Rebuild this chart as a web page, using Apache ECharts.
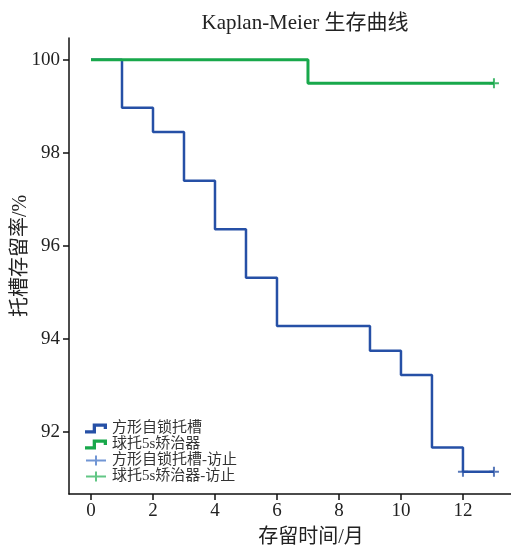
<!DOCTYPE html>
<html style="height: 100%">
<head>
  <meta charset="utf-8">
</head>
<body style="height: 100%; margin: 0">
  <div id="container" style="width: 511px; height: 551px"></div>
  <script type="text/javascript" src="https://cdn.jsdelivr.net/npm/echarts@6/dist/echarts.min.js"></script>
  <script type="text/javascript">
    // survival steps
    var blueTimes = [0, 1, 2, 3, 4, 5, 6, 9, 10, 11, 12, 13];
    var blueRates = [100, 98.97, 98.45, 97.4, 96.36, 95.32, 94.28, 93.75, 93.23, 91.67, 91.15, 91.15];
    var greenTimes = [0, 7, 13];
    var greenRates = [100, 99.5, 99.5];
    var blueCensor = [[12, 91.15], [13, 91.15]];
    var greenCensor = [[13, 99.5]];
    var xTicks = [0, 2, 4, 6, 8, 10, 12];
    var yTicks = [92, 94, 96, 98, 100];
    var names = ['方形自锁托槽', '球托5s矫治器', '方形自锁托槽-访止', '球托5s矫治器-访止'];

    var font = '"Liberation Serif", "Noto Sans CJK SC", serif';
    var blue = '#2650a6';
    var green = '#18a84b';
    var plusPath = 'path://M9,0 L11,0 L11,4 L20,4 L20,6 L11,6 L11,10 L9,10 L9,6 L0,6 L0,4 L9,4 Z';
    var stepPath = 'path://M0,7 L7,7 L7,1 L20,1 L20,6 L17,6 L17,4 L10,4 L10,10 L0,10 Z';
    var markPath = 'path://M4,0 L6,0 L6,4 L10,4 L10,6 L6,6 L6,10 L4,10 L4,6 L0,6 L0,4 L4,4 Z';

    function zip(xs, ys) {
      return xs.map(function (x, i) { return [x, ys[i]]; });
    }

    var dom = document.getElementById('container');
    var myChart = echarts.init(dom, null, { renderer: 'canvas' });
    var option = {
      animation: false,
      backgroundColor: '#fff',
      title: {
        text: 'Kaplan-Meier 生存曲线',
        left: 300,
        top: 8,
        textAlign: 'center',
        textStyle: { fontFamily: font, fontSize: 21, fontWeight: 'normal', color: '#222' }
      },
      legend: {
        orient: 'vertical',
        left: 80,
        top: 416,
        itemGap: 1,
        itemWidth: 22,
        itemHeight: 10,
        textStyle: { fontFamily: font, fontSize: 15, color: '#333', lineHeight: 14 },
        data: [
          { name: names[0], icon: stepPath },
          { name: names[1], icon: stepPath },
          { name: names[2], icon: plusPath, itemStyle: { color: '#4d7cc9' } },
          { name: names[3], icon: plusPath, itemStyle: { color: '#3bb866' } }
        ]
      },
      grid: { left: 69, right: 0, top: 38, bottom: 57, outerBoundsMode: 'none', containLabel: false },
      xAxis: {
        type: 'value',
        min: -0.71,
        max: 13.55,
        name: '存留时间/月',
        nameLocation: 'middle',
        nameGap: 34,
        nameMoveOverlap: false,
        nameTextStyle: { fontFamily: font, fontSize: 20, color: '#222', padding: [0, 0, 0, 42] },
        splitLine: { show: false },
        axisLine: { onZero: false, lineStyle: { color: '#111', width: 1.5 } },
        axisTick: { customValues: xTicks, length: 6, lineStyle: { color: '#111', width: 1.5 } },
        axisLabel: { customValues: xTicks, fontFamily: font, fontSize: 19, color: '#222', margin: 8 }
      },
      yAxis: {
        type: 'value',
        min: 90.67,
        max: 100.47,
        name: '托槽存留率/%',
        nameLocation: 'middle',
        nameGap: 38,
        nameMoveOverlap: false,
        nameTextStyle: { fontFamily: font, fontSize: 20, color: '#222', padding: [0, 0, 0, 20] },
        splitLine: { show: false },
        axisLine: { show: true, onZero: false, lineStyle: { color: '#111', width: 1.5 } },
        axisTick: { show: true, customValues: yTicks, length: 6, lineStyle: { color: '#111', width: 1.5 } },
        axisLabel: { customValues: yTicks, fontFamily: font, fontSize: 19, color: '#222', margin: 9 }
      },
      series: [
        {
          name: names[0],
          type: 'line',
          step: 'end',
          data: zip(blueTimes, blueRates),
          symbol: 'none',
          color: blue,
          lineStyle: { width: 2.5, color: blue }
        },
        {
          name: names[1],
          type: 'line',
          step: 'end',
          data: zip(greenTimes, greenRates),
          symbol: 'none',
          color: green,
          lineStyle: { width: 3, color: green }
        },
        {
          name: names[2],
          type: 'scatter',
          data: blueCensor,
          symbol: markPath,
          symbolSize: 10,
          color: '#2d56a8'
        },
        {
          name: names[3],
          type: 'scatter',
          data: greenCensor,
          symbol: markPath,
          symbolSize: 10,
          color: green
        }
      ]
    };

    myChart.setOption(option);
  </script>
</body>
</html>
